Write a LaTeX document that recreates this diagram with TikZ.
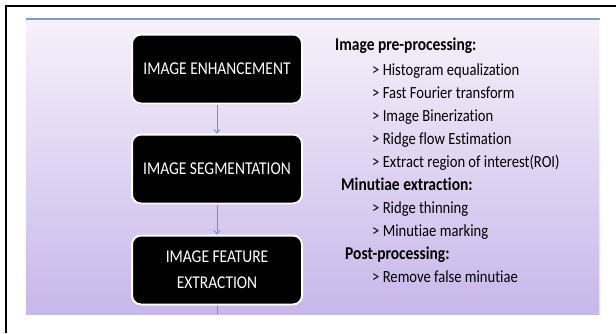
\documentclass[tikz,border=0pt]{standalone}
\usepackage{fontspec}
\usepackage{xcolor}
\usetikzlibrary{arrows.meta,shadows}
\newfontfamily\slidefont[FakeStretch=0.86,Ligatures=NoCommon]{Carlito}

\definecolor{paneltop}{HTML}{F6F1FA}
\definecolor{panelbot}{HTML}{C8B7EA}
\definecolor{panelline}{HTML}{7E9EC8}
\definecolor{flowblue}{HTML}{6F8FC6}

\tikzset{
  stagebox/.style={draw=white,line width=2pt,fill=black,rounded corners=9pt,
    minimum width=170pt,minimum height=69pt,align=center,text=white,
    font=\slidefont\fontsize{18}{26}\selectfont,
    drop shadow={shadow xshift=0pt,shadow yshift=-1.5pt,opacity=0.35,fill=gray}},
  flow/.style={flowblue,line width=0.8pt,-{Straight Barb[length=3.5pt,width=6pt]}},
  grouphead/.style={anchor=mid west,inner sep=0pt,font=\slidefont\bfseries\fontsize{18}{20}\selectfont},
  stepitem/.style={anchor=mid west,inner sep=0pt,font=\slidefont\fontsize{17}{20}\selectfont}
}

\begin{document}
\begin{tikzpicture}[x=1pt,y=-1pt]
    \useasboundingbox (0,0) rectangle (616,333);
    % frame and panel
    \draw[line width=2pt] (6,333) -- (6,6) -- (616,6);
    \shade[top color=paneltop,bottom color=panelbot] (26,19) rectangle (600,314);
    \draw[white,line width=0.8pt,opacity=0.6] (599.5,19) -- (599.5,314);
    \draw[panelline,line width=1.5pt] (26,19) -- (600,19);

    % stages
    \node[stagebox] at (217,69) (enh) {IMAGE ENHANCEMENT};
    \node[stagebox] at (217,169) (seg) {IMAGE SEGMENTATION};
    \node[stagebox] at (217,270) (feat) {IMAGE FEATURE\\EXTRACTION};
    \coordinate (panelend) at (217,314);
    \draw[flow] (enh) -- (seg);
    \draw[flow] (seg) -- (feat);
    \draw[flowblue,line width=0.8pt] (feat) -- (panelend);

    % steps
    \node[grouphead] at (335,48) (pre) {Image pre-processing:};
    \node[stepitem] at (372,73) (hist) {> Histogram equalization};
    \node[stepitem] at (372,96) (fft) {> Fast Fourier transform};
    \node[stepitem] at (372,119) (bin) {> Image Binerization};
    \node[stepitem] at (372,142) (flowest) {> Ridge flow Estimation};
    \node[stepitem] at (372,165) (roi) {> Extract region of interest(ROI)};
    \node[grouphead] at (341,188) (minu) {Minutiae extraction:};
    \node[stepitem] at (372,211) (thin) {> Ridge thinning};
    \node[stepitem] at (372,234) (mark) {> Minutiae marking};
    \node[grouphead] at (345,257) (post) {Post-processing:};
    \node[stepitem] at (372,280) (false) {> Remove false minutiae};
\end{tikzpicture}
\end{document}
